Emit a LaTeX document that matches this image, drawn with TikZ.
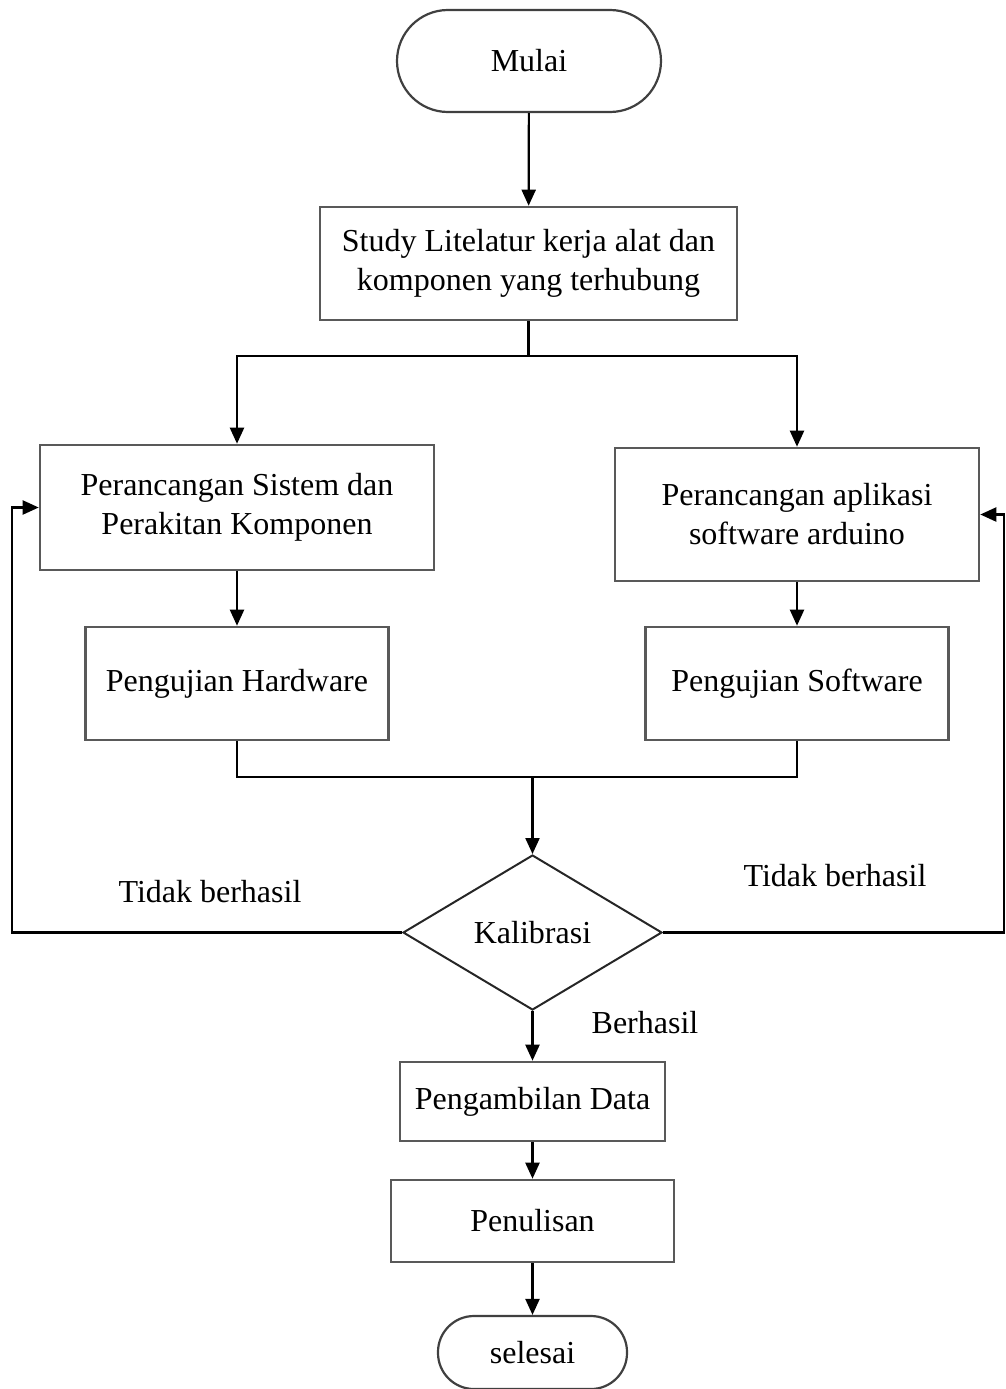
\documentclass[tikz,border=0pt]{standalone}
\usepackage{fontspec}
\setmainfont{Liberation Serif}
\usetikzlibrary{arrows.meta,shapes.geometric}
\begin{document}
\begin{tikzpicture}[x=1pt,y=-1pt,
  font=\fontsize{32}{39}\selectfont,
  box/.style={draw=black!65,line width=2.6pt,rectangle,inner sep=0pt,align=center},
  term/.style={draw=black!75,line width=2.2pt,rectangle,rounded corners=#1,inner sep=0pt,align=center},
  dec/.style={draw=black!85,line width=2pt,diamond,aspect=1.67,inner sep=0pt},
  conn/.style={draw=black,line width=2.2pt},
  arr/.style={conn,-{Triangle[length=16pt,width=14pt]}},
  lbl/.style={inner sep=0pt}]
\useasboundingbox (0,0) rectangle (1006,1389);
\node[term=51pt,minimum width=264pt,minimum height=102pt] (mulai) at (529,61) {Mulai};
\node[box,minimum width=417pt,minimum height=113pt] (study) at (528.5,263.5) {Study Litelatur kerja alat dan\\komponen yang terhubung};
\node[box,minimum width=394pt,minimum height=125pt] (psis) at (237,507.5) {Perancangan Sistem dan\\Perakitan Komponen};
\node[box,minimum width=364pt,minimum height=133pt] (papl) at (797,514.5) {Perancangan aplikasi\\software arduino};
\node[box,minimum width=303pt,minimum height=113pt] (hw) at (237,683.5) {Pengujian Hardware};
\node[box,minimum width=303pt,minimum height=113pt] (sw) at (797,683.5) {Pengujian Software};
\node[dec,minimum width=259pt,minimum height=155pt] (kal) at (532.5,932.5) {Kalibrasi};
\node[box,minimum width=265pt,minimum height=79pt] (data) at (532.5,1101.5) {Pengambilan Data};
\node[box,minimum width=283pt,minimum height=82pt] (tulis) at (532.5,1221) {Penulisan};
\node[term=36pt,minimum width=189pt,minimum height=73pt] (selesai) at (532.5,1352.5) {selesai};
\node[lbl] (tb1) at (210,892) {Tidak berhasil};
\node[lbl] (tb2) at (835,876) {Tidak berhasil};
\node[lbl] (bh) at (645,1023) {Berhasil};
\coordinate (s1) at (528.5,356);
\coordinate (j) at (532.5,777);
\coordinate (L) at (12,932.5);
\coordinate (R) at (1004,932.5);
\draw[arr] (mulai) -- (study);
\draw[conn] (study.south) -- (s1);
\draw[arr] (s1) -| (psis.north);
\draw[arr] (s1) -| (papl.north);
\draw[arr] (psis) -- (hw);
\draw[arr] (papl) -- (sw);
\draw[conn] (hw.south) |- (j) -| (sw.south);
\draw[arr] (j) -- (kal.north);
\draw[arr] (kal.west) -- (L) |- (psis.west);
\draw[arr] (kal.east) -- (R) |- (papl.east);
\draw[arr] (kal.south) -- (data.north);
\draw[arr] (data) -- (tulis);
\draw[arr] (tulis) -- (selesai);
\end{tikzpicture}
\end{document}
